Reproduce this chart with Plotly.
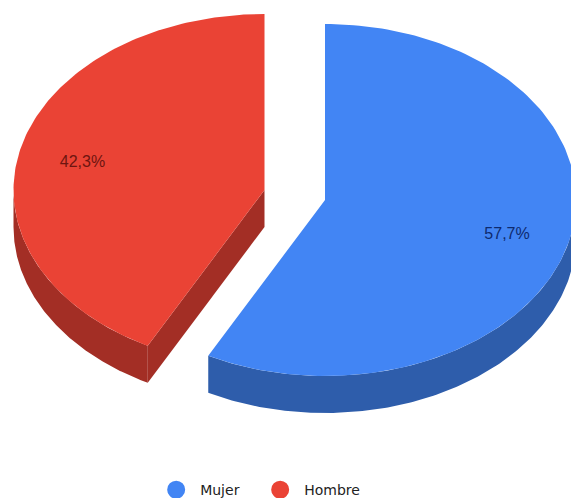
import numpy as np
import plotly.graph_objects as go

# Survey shares by gender
categories = ["Mujer", "Hombre"]
shares = [57.7, 42.3]
top_colors = ["#4285F4", "#EA4335"]
side_colors = ["#2E5DAB", "#A32E25"]
label_colors = ["#0E2A6E", "#6E1510"]

# Projected pie geometry, in canvas units
centers = [(325.0, 200.0), (264.5, 190.0)]
RX, RY = 251.0, 176.0
DEPTH = 37.0
LABEL_RADIUS = 0.747
LABEL_DROP = 4.0


def ring_point(center, turn, radius=1.0):
    """Point on the squashed circle; turn runs clockwise from 12 o'clock, 0..1."""
    a = 2 * np.pi * np.asarray(turn)
    return center[0] + radius * RX * np.sin(a), center[1] - radius * RY * np.cos(a)


def arc(center, t0, t1, n=160):
    return ring_point(center, np.linspace(t0, t1, n))


def polygon(x, y, color):
    return go.Scatter(
        x=list(x), y=list(y), mode="lines", fill="toself", fillcolor=color,
        line=dict(width=0), hoverinfo="skip", showlegend=False,
    )


fig = go.Figure()
total = sum(shares)
start = 0.0
for i, share in enumerate(shares):
    frac = share / total
    end = start + frac
    c = centers[i]

    # Outer rim: only the part of the arc facing the viewer (lower half)
    rim0, rim1 = max(start, 0.25), min(end, 0.75)
    if rim1 > rim0:
        ax, ay = arc(c, rim0, rim1)
        fig.add_trace(polygon(
            np.r_[ax, ax[::-1]], np.r_[ay, ay[::-1] + DEPTH], side_colors[i]))

    # Cut face, visible where the slice's leading edge looks toward the viewer
    if start > 0:
        ex, ey = ring_point(c, start)
        fig.add_trace(polygon(
            [c[0], ex, ex, c[0]], [c[1], ey, ey + DEPTH, c[1] + DEPTH], side_colors[i]))

    # Top face
    ax, ay = arc(c, start, end)
    fig.add_trace(polygon(np.r_[c[0], ax], np.r_[c[1], ay], top_colors[i]))

    # Percentage label placed on the slice's mid angle
    lx, ly = ring_point(c, (start + end) / 2, LABEL_RADIUS)
    fig.add_trace(go.Scatter(
        x=[lx], y=[ly + LABEL_DROP], mode="text",
        text=[f"{share:.1f}%".replace(".", ",")],
        textposition="middle center",
        textfont=dict(family="Liberation Sans", size=16, color=label_colors[i]),
        hoverinfo="skip", showlegend=False,
    ))
    start = end

# Legend entries
for name, color in zip(categories, top_colors):
    fig.add_trace(go.Scatter(
        x=[None], y=[None], mode="markers", name=name,
        marker=dict(symbol="circle", size=16, color=color, line=dict(width=2, color=color)),
    ))

fig.update_layout(
    width=571, height=498,
    margin=dict(l=0, r=0, t=0, b=0, autoexpand=False),
    paper_bgcolor="white", plot_bgcolor="white",
    xaxis=dict(range=[0, 571], visible=False, fixedrange=True),
    yaxis=dict(range=[498, 0], visible=False, fixedrange=True),
    legend=dict(
        orientation="h", x=0.2665, xanchor="left", y=0.048, yanchor="top",
        font=dict(family="DejaVu Sans", size=14, color="#222222"),
        itemsizing="trace", itemwidth=38, entrywidth=51, entrywidthmode="pixels",
    ),
)

fig.write_html("out.html", config=dict(displayModeBar=False))
